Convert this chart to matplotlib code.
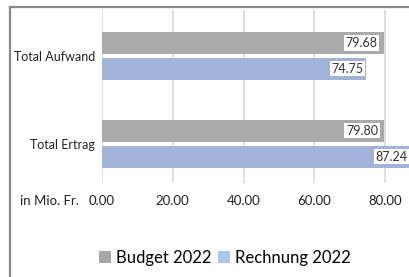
import numpy as np
import matplotlib
matplotlib.use("Agg")
import matplotlib.pyplot as plt
from matplotlib.patches import Patch
from matplotlib.lines import Line2D

plt.rcParams['font.family'] = ['Lato', 'DejaVu Sans']

categories = ['Total Aufwand', 'Total Ertrag']
budget_2022 = [79.68, 79.80]
rechnung_2022 = [74.75, 87.24]
series_names = ['Budget 2022', 'Rechnung 2022']
xticks = [0, 20, 40, 60, 80]

W, H = 409, 277
fig = plt.figure(figsize=(W / 100, H / 100), dpi=100)
fig.patch.set_facecolor('white')

# axes placed in pixel terms: left 102, right edge of image, top 10, bottom 183
ax = fig.add_axes([102 / W, 1 - 183 / H, 1 - 102 / W, 173 / H])
ax.set_xlim(0, (W - 102) / 3.5375)
ax.set_ylim(1.449, -0.523)

y = np.arange(len(categories))
off, h = 0.148, 0.25
gray, blue = '#a9aaa9', '#a2b3da'
ax.barh(y - off, budget_2022, height=h, color=gray, zorder=2)
ax.barh(y + off, rechnung_2022, height=h, color=blue, zorder=2)

for yy, v in zip(y - off, budget_2022):
    ax.text(v - 1.8, yy, f'{v:.2f}', ha='right', va='center', fontsize=9,
            color='#333333', zorder=3,
            bbox=dict(facecolor='white', edgecolor='none', pad=1.2))
for yy, v in zip(y + off, rechnung_2022):
    ax.text(v - 0.8, yy, f'{v:.2f}', ha='right', va='center', fontsize=9,
            color='#333333', zorder=3, clip_on=False,
            bbox=dict(facecolor='white', edgecolor='none', pad=1.2))

for t in xticks:
    ax.axvline(t, color='#ddd6d6', lw=1.1, zorder=1)

for s in ax.spines.values():
    s.set_visible(False)
ax.set_xticks(xticks)
ax.set_xticklabels([f'{t:.2f}' for t in xticks], fontsize=9.5, color='#222222')
ax.tick_params(axis='x', length=0, pad=8.5)
ax.set_yticks(y)
ax.set_yticklabels(categories, fontsize=9, color='#222222')
ax.tick_params(axis='y', length=0, pad=5)

fig.text(20 / W, 1 - 201 / H, 'in Mio. Fr.', fontsize=9.5, color='#222222',
         ha='left', va='center')

handles = [Patch(facecolor='#a6a6a6', edgecolor='none'),
           Patch(facecolor='#a9c9e9', edgecolor='none')]
fig.legend(handles, series_names, loc='center', bbox_to_anchor=(225 / W, 1 - 258 / H),
           ncol=2, frameon=False, fontsize=12, handlelength=0.7, handleheight=0.7,
           handletextpad=0.3, columnspacing=0.4, borderaxespad=0)

# outer frame (top and left edges)
fig.add_artist(Line2D([10 / W, 1], [1 - 7 / H, 1 - 7 / H], color='#888888', lw=1.6,
                      transform=fig.transFigure))
fig.add_artist(Line2D([10 / W, 10 / W], [0, 1 - 7 / H], color='#888888', lw=1.6,
                      transform=fig.transFigure))

fig.savefig('out.png', dpi=100)
